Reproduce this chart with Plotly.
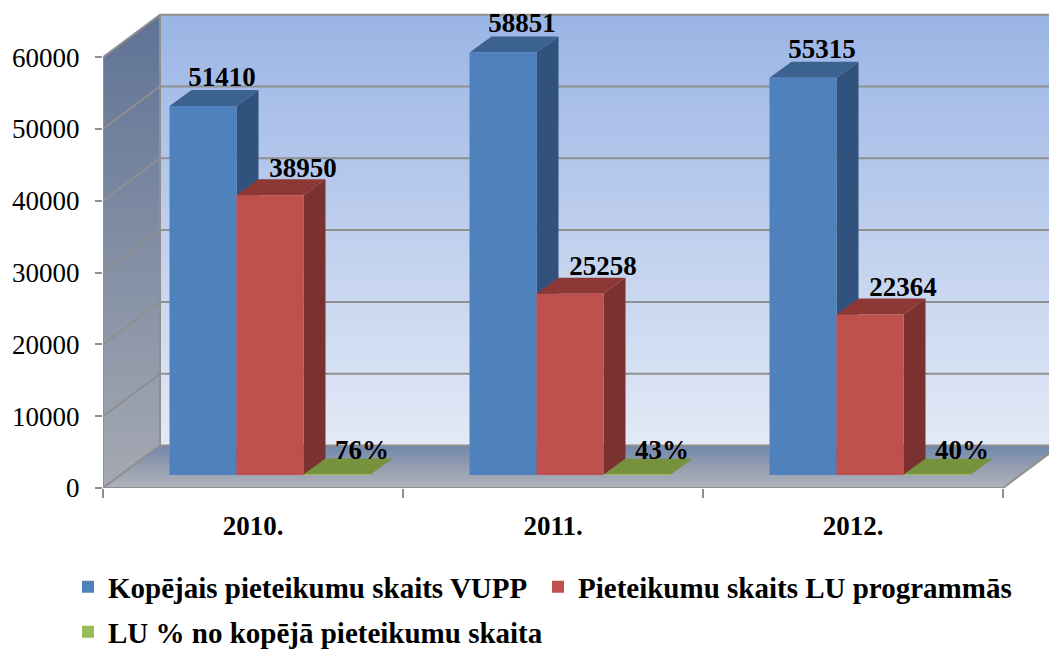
import plotly.graph_objects as go

categories = ["2010.", "2011.", "2012."]
series_names = ["Kopējais pieteikumu skaits VUPP", "Pieteikumu skaits LU programmās", "LU % no kopējā pieteikumu skaita"]
total_apps = [51410, 58851, 55315]
lu_apps = [38950, 25258, 22364]
lu_percent = [76, 43, 40]
y_ticks = [0, 10000, 20000, 30000, 40000, 50000, 60000]

PX_X = 300.0            # pixels per category
PX_Y = 71.8 / 10000     # pixels per value unit
YMAX = 488 / PX_Y
XMIN, XMAX = -0.5, -0.5 + (1049 - 103) / PX_X
WALL_DX, WALL_DY = 57 / PX_X, 42.5 / PX_Y
BAR_DX, BAR_DY = 22 / PX_X, 16 / PX_Y
BASE = 13 / PX_Y
BAR_SHIFT = 17 / PX_X   # columns stand part-way back on the floor
BAR_W = 0.67 / 3
FONT = "Liberation Serif"
GRID = "#8f8f8f"

fig = go.Figure()

def poly(xs, ys, color=None, grad=None):
    kw = dict(fillgradient=dict(type="vertical", colorscale=grad)) if grad else dict(fillcolor=color)
    fig.add_trace(go.Scatter(x=xs + xs[:1], y=ys + ys[:1], mode="lines", fill="toself",
                             line=dict(width=0), hoverinfo="skip", showlegend=False, **kw))

# back wall, side wall, floor
poly([XMIN + WALL_DX, XMAX + 1, XMAX + 1, XMIN + WALL_DX],
     [WALL_DY, WALL_DY, 60000 + WALL_DY, 60000 + WALL_DY],
     grad=[[0, "#e3e9f6"], [1, "#9ab5e5"]])
poly([XMIN, XMIN + WALL_DX, XMIN + WALL_DX, XMIN],
     [0, WALL_DY, 60000 + WALL_DY, 60000],
     grad=[[0, "#a5a9b2"], [1, "#5f7396"]])
poly([XMIN, 2.5, 2.5 + WALL_DX, XMIN + WALL_DX],
     [0, 0, WALL_DY, WALL_DY],
     grad=[[0, "#b0b3bb"], [0.5, "#959db0"], [1, "#7088ad"]])

# gridlines on the walls
gx, gy = [], []
for v in y_ticks:
    gx += [XMIN, XMIN + WALL_DX, XMAX + 1, None]
    gy += [v, v + WALL_DY, v + WALL_DY, None]
gx += [XMIN + WALL_DX, XMIN + WALL_DX, None, XMIN, XMIN, None, XMIN, 2.5, 2.5 + WALL_DX]
gy += [WALL_DY, 60000 + WALL_DY, None, 0, 60000, None, 0, 0, WALL_DY]
fig.add_trace(go.Scatter(x=gx, y=gy, mode="lines", line=dict(color=GRID, width=2),
                         hoverinfo="skip", showlegend=False))

# side and top faces of the columns, drawn behind the front faces
series = [total_apps, lu_apps, lu_percent]
colors = ["#4f81bd", "#c0504d", "#9bbb59"]
side_colors = ["#31527d", "#7a3230", "#5f7530"]
top_colors = ["#3c6290", "#8d3835", "#76923c"]
for i in range(len(categories)):
    for s, vals in enumerate(series):
        x0 = i + BAR_SHIFT + (s - 1.5) * BAR_W
        x1 = x0 + BAR_W
        y0, y1 = BASE, BASE + vals[i]
        poly([x1, x1 + BAR_DX, x1 + BAR_DX, x1],
             [y0, y0 + BAR_DY, y1 + BAR_DY, y1], color=side_colors[s])
        poly([x0, x1, x1 + BAR_DX, x0 + BAR_DX],
             [y1, y1, y1 + BAR_DY, y1 + BAR_DY], color=top_colors[s])

# front faces
x_pos = list(range(len(categories)))
legend_ids = ["legend", "legend2", "legend3"]
for s, vals in enumerate(series):
    fig.add_trace(go.Bar(x=[i + BAR_SHIFT for i in x_pos], y=vals, base=BASE, name=series_names[s],
                         marker=dict(color=colors[s], line=dict(width=0)),
                         xaxis="x2", yaxis="y2", hoverinfo="skip", legend=legend_ids[s]))

# value labels
label_dx = [19 / PX_X, 33 / PX_X, 25 / PX_X]
label_dy = [27 / PX_Y, 25 / PX_Y, 22 / PX_Y]
for s, vals in enumerate(series):
    texts = [f"{v}%" if s == 2 else str(v) for v in vals]
    fig.add_trace(go.Scatter(
        x=[i + BAR_SHIFT + (s - 1) * BAR_W + label_dx[s] for i in x_pos],
        y=[BASE + v + label_dy[s] for v in vals],
        text=texts, mode="text", textposition="middle center",
        textfont=dict(family=FONT, size=27, color="black", weight="bold"),
        xaxis="x2", yaxis="y2", hoverinfo="skip", showlegend=False))

legend_font = dict(family=FONT, size=29, color="black", weight="bold")
def legend_at(x, y):
    return dict(orientation="h", xref="container", yref="container",
                x=x / 1049, xanchor="left", y=1 - y / 650, yanchor="middle",
                font=legend_font, bgcolor="rgba(0,0,0,0)", itemclick=False, itemdoubleclick=False)

fig.update_layout(
    width=1049, height=650, autosize=False,
    margin=dict(l=103, r=0, t=0, b=162, pad=0),
    paper_bgcolor="white", plot_bgcolor="white",
    barmode="group", bargap=0.33, bargroupgap=0,
    xaxis=dict(range=[XMIN, XMAX], tickvals=x_pos, ticktext=categories, ticks="",
               ticklabelstandoff=19, tickfont=dict(family=FONT, size=27, color="black", weight="bold"),
               showgrid=False, zeroline=False, showline=False,
               minor=dict(tickvals=[-0.5, 0.5, 1.5, 2.5], ticks="outside", ticklen=9,
                          tickwidth=2, tickcolor=GRID, showgrid=False)),
    yaxis=dict(range=[0, YMAX], tickvals=y_ticks, tickformat="d", ticks="outside", ticklen=7, tickwidth=2,
               tickcolor=GRID, ticklabelstandoff=10,
               tickfont=dict(family=FONT, size=27, color="black"),
               showgrid=False, zeroline=False, showline=False),
    xaxis2=dict(range=[XMIN, XMAX], overlaying="x", visible=False),
    yaxis2=dict(range=[0, YMAX], overlaying="y", visible=False),
    legend=legend_at(68, 587),
    legend2=legend_at(538, 587),
    legend3=legend_at(68, 632),
    showlegend=True,
)
fig.write_html("out.html", post_script="document.body.style.margin='0';",
               config=dict(displayModeBar=False))
